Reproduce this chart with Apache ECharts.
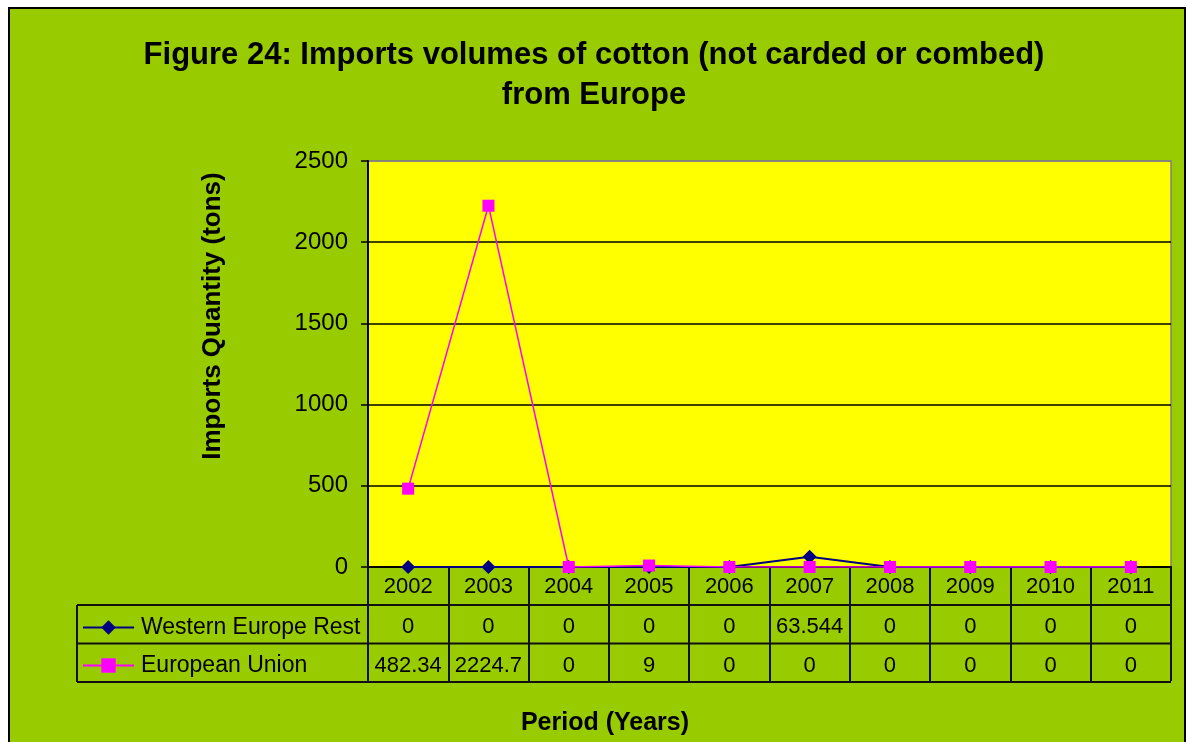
<!DOCTYPE html>
<html>
<head>
<meta charset="utf-8">
<script src="https://cdn.jsdelivr.net/npm/echarts@6/dist/echarts.min.js"></script>
<style>
html,body{margin:0;padding:0;background:#fff;}
#c{width:1188px;height:742px;}
</style>
</head>
<body>
<div id="c"></div>
<script>
const categories = ['2002','2003','2004','2005','2006','2007','2008','2009','2010','2011'];
const westernEuropeRest = [0, 0, 0, 0, 0, 63.544, 0, 0, 0, 0];
const europeanUnion = [482.34, 2224.7, 0, 9, 0, 0, 0, 0, 0, 0];
const seriesNames = ['Western Europe Rest', 'European Union'];
const yTicks = { min: 0, max: 2500, interval: 500 };
const titleText = 'Figure 24: Imports volumes of cotton (not carded or combed)\nfrom Europe';
const yAxisTitle = 'Imports Quantity (tons)';
const xAxisTitle = 'Period (Years)';

const FONT = '"Liberation Sans", Arial, sans-serif';
const chart = echarts.init(document.getElementById('c'));

const option = {
  backgroundColor: '#ffffff',
  animation: false,
  title: {
    text: titleText,
    left: 'center',
    top: 30,
    textStyle: { fontFamily: FONT, fontSize: 31, fontWeight: 'bold', color: '#000', lineHeight: 40 }
  },
  legend: {
    orient: 'vertical',
    left: 82,
    top: 616,
    padding: 0,
    itemWidth: 51,
    itemHeight: 18,
    itemGap: 15,
    data: seriesNames,
    textStyle: { fontFamily: FONT, fontSize: 23, color: '#000', lineHeight: 23, padding: [0, 0, 0, 2] }
  },
  grid: {
    left: 368, right: 17, top: 161, bottom: 175,
    show: true, backgroundColor: '#FFFF00', borderColor: '#808080', borderWidth: 1.5
  },
  xAxis: {
    type: 'category',
    data: categories,
    boundaryGap: true,
    axisLine: { lineStyle: { color: '#000', width: 2 } },
    axisTick: { show: true, interval: 0, length: 114, lineStyle: { color: '#111', width: 2 } },
    axisLabel: { interval: 0, margin: 9, fontFamily: FONT, fontSize: 22, color: '#000' },
    splitLine: { show: false }
  },
  yAxis: {
    type: 'value',
    min: yTicks.min, max: yTicks.max, interval: yTicks.interval,
    axisLine: { show: true, lineStyle: { color: '#000', width: 2 } },
    axisTick: { show: true, length: 7, lineStyle: { color: '#000', width: 1.5 } },
    axisLabel: { margin: 20, fontFamily: FONT, fontSize: 24, color: '#000', formatter: v => String(v) },
    splitLine: { show: true, lineStyle: { color: ['#000','#000','#000','#000','#000','#808080'], width: 1.5 } }
  },
  series: [
    {
      name: seriesNames[0],
      type: 'line',
      data: westernEuropeRest,
      symbol: 'diamond',
      symbolSize: 14,
      itemStyle: { color: '#000080' },
      lineStyle: { color: '#000080', width: 2 },
      z: 3
    },
    {
      name: seriesNames[1],
      type: 'line',
      data: europeanUnion,
      symbol: 'rect',
      symbolSize: 12,
      itemStyle: { color: '#FF00FF' },
      lineStyle: { color: '#FF00FF', width: 1.5 },
      z: 4
    }
  ]
};
chart.setOption(option);

function buildTable() {
  const rows = [westernEuropeRest, europeanUnion];
  const y0 = chart.convertToPixel({ yAxisIndex: 0 }, 0);
  const rowH = 38.5;
  const headerBottom = y0 + 38;
  const step = chart.convertToPixel({ xAxisIndex: 0 }, 1) - chart.convertToPixel({ xAxisIndex: 0 }, 0);
  const xLeft = chart.convertToPixel({ xAxisIndex: 0 }, 0) - step / 2;
  const xRight = xLeft + step * categories.length;
  const tableLeft = 77;
  const els = [];
  els.push({
    type: 'rect', z: -10,
    shape: { x: 9, y: 8, width: 1176, height: 760 },
    style: { fill: '#99CC00', stroke: '#000', lineWidth: 2 }
  });
  const lineStyle = { stroke: '#111', lineWidth: 2 };
  for (let r = 0; r <= rows.length; r++) {
    const y = headerBottom + r * rowH;
    els.push({ type: 'line', z: 5, shape: { x1: tableLeft, y1: y, x2: xRight, y2: y }, style: lineStyle });
  }
  els.push({ type: 'line', z: 5, shape: { x1: tableLeft, y1: headerBottom, x2: tableLeft, y2: headerBottom + rows.length * rowH }, style: lineStyle });
  rows.forEach((vals, r) => {
    const cy = headerBottom + r * rowH + rowH / 2 + 3;
    vals.forEach((v, i) => {
      const cx = chart.convertToPixel({ xAxisIndex: 0 }, i);
      els.push({
        type: 'text', z: 6,
        style: { x: cx, y: cy, text: String(v), textAlign: 'center', textVerticalAlign: 'middle',
                 font: '22px ' + FONT, fill: '#000' }
      });
    });
  });
  els.push({
    type: 'text', z: 6, x: 213, y: 316, rotation: Math.PI / 2,
    style: { x: 0, y: 0, text: yAxisTitle, textAlign: 'center', textVerticalAlign: 'middle',
             font: 'bold 26px ' + FONT, fill: '#000' }
  });
  els.push({
    type: 'text', z: 6,
    style: { x: 605, y: 723, text: xAxisTitle, textAlign: 'center', textVerticalAlign: 'middle',
             font: 'bold 25px ' + FONT, fill: '#000' }
  });
  chart.setOption({ graphic: { elements: els } });
}
buildTable();
</script>
</body>
</html>
